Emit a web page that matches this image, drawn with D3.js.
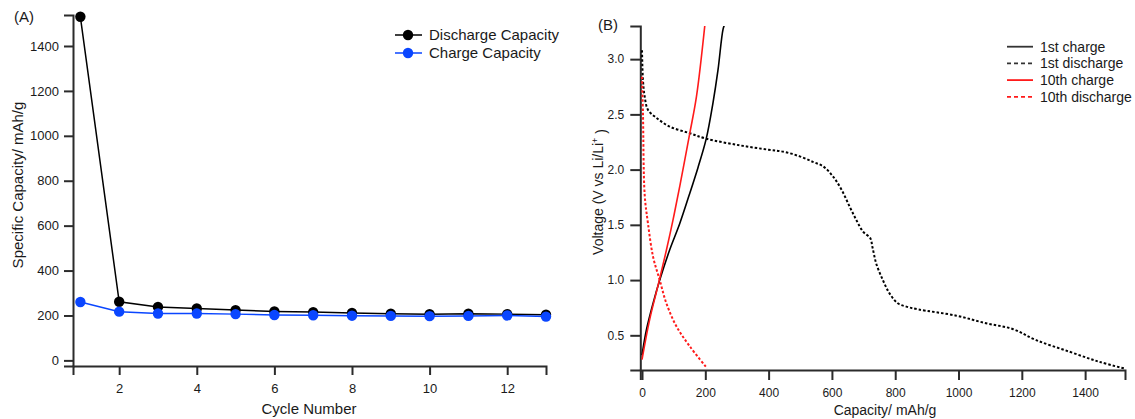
<!DOCTYPE html>
<html>
<head>
<meta charset="utf-8">
<script src="https://cdn.jsdelivr.net/npm/d3@7"></script>
<style>
  html, body { margin: 0; padding: 0; background: #fff; }
  svg { display: block; font-family: Arial, "Liberation Sans", sans-serif; }
</style>
</head>
<body>
<svg id="chart" width="1135" height="419"></svg>
<script>
// ---------- Panel A data ----------
const cycles = [1, 2, 3, 4, 5, 6, 7, 8, 9, 10, 11, 12, 13];
const dischargeCapacity = [1530, 261, 238, 231, 224, 218, 215, 211, 208, 206, 208, 206, 203];
const chargeCapacity = [260, 217, 209, 209, 206, 202, 201, 199, 198, 197, 198, 200, 195];
const cycleTicks = [2, 4, 6, 8, 10, 12];
const capTicksA = [0, 200, 400, 600, 800, 1000, 1200, 1400];
const legendA = ["Discharge Capacity", "Charge Capacity"];

// ---------- Panel B data (capacity mAh/g, voltage V) ----------
const firstChargeCap = [0, 14, 35, 56, 87, 119, 148, 177, 203, 224, 240, 256, 262];
const firstChargeV = [0.32, 0.55, 0.79, 1.0, 1.27, 1.51, 1.76, 2.02, 2.28, 2.6, 2.9, 3.27, 3.32];
const firstDischargeCap = [0, 3, 8.5, 19, 45, 87, 150, 203, 308, 400, 450, 498, 540, 572, 603, 630, 656, 677, 698, 721, 728, 740, 761, 782, 808, 835, 872, 993, 1087, 1171, 1245, 1351, 1445, 1524];
const firstDischargeV = [3.08, 2.81, 2.66, 2.54, 2.47, 2.39, 2.33, 2.28, 2.22, 2.18, 2.16, 2.12, 2.07, 2.03, 1.94, 1.82, 1.665, 1.545, 1.44, 1.38, 1.30, 1.15, 1.0, 0.88, 0.79, 0.76, 0.735, 0.678, 0.609, 0.557, 0.457, 0.351, 0.26, 0.20];
const tenthChargeCap = [0, 24, 51, 77, 98, 120, 151, 172, 199];
const tenthChargeV = [0.28, 0.64, 0.955, 1.27, 1.545, 1.86, 2.33, 2.66, 3.32];
const tenthDischargeCap = [0, 3, 8.5, 19, 35, 56, 77, 109, 151, 206];
const tenthDischargeV = [2.84, 2.51, 1.77, 1.51, 1.21, 1.0, 0.79, 0.58, 0.40, 0.20];
const capTicksB = [0, 200, 400, 600, 800, 1000, 1200, 1400];
const voltTicks = [0.5, 1.0, 1.5, 2.0, 2.5, 3.0];
const legendB = ["1st charge", "1st discharge", "10th charge", "10th discharge"];

const svg = d3.select("#chart");
const axisColor = "#2b2b2b";
const textColor = "#1a1a1a";
const blue = "#0a46ff";
const red = "#ff1a1a";

function styleAxis(g, fontSize) {
  g.select(".domain").attr("stroke", axisColor).attr("stroke-width", 2);
  g.selectAll(".tick line").attr("stroke", axisColor).attr("stroke-width", 2);
  g.selectAll(".tick text").attr("fill", textColor).style("font-size", fontSize + "px")
    .style("font-family", "Arial, 'Liberation Sans', sans-serif");
}

// ================= Panel A =================
const xA = d3.scaleLinear().domain([0.81, 13]).range([73, 546]);
const yA = d3.scaleLinear().domain([-25, 1538]).range([366, 15]);

const gAx = svg.append("g").attr("transform", "translate(0,366)")
  .call(d3.axisBottom(xA).tickValues(cycleTicks).tickFormat(d3.format("d")).tickSizeOuter(0).tickSize(9).tickPadding(9));
styleAxis(gAx, 13);
const gAy = svg.append("g").attr("transform", "translate(73,0)")
  .call(d3.axisLeft(yA).tickValues(capTicksA).tickFormat(d3.format("d")).tickSizeOuter(0).tickSize(9).tickPadding(5));
styleAxis(gAy, 13);

const lineA = d3.line().x(d => xA(d[0])).y(d => yA(d[1]));
const seriesA = [
  { name: legendA[0], vals: dischargeCapacity, color: "#000" },
  { name: legendA[1], vals: chargeCapacity, color: blue }
];
seriesA.forEach(s => {
  const pts = cycles.map((c, i) => [c, s.vals[i]]);
  svg.append("path").datum(pts).attr("d", lineA)
    .attr("fill", "none").attr("stroke", s.color).attr("stroke-width", 1.5);
  svg.append("g").selectAll("circle").data(pts).join("circle")
    .attr("cx", d => xA(d[0])).attr("cy", d => yA(d[1])).attr("r", 5.2)
    .attr("fill", s.color);
});

// legend A
seriesA.forEach((s, i) => {
  const y = 35 + i * 18;
  svg.append("line").attr("x1", 395).attr("x2", 422).attr("y1", y).attr("y2", y)
    .attr("stroke", s.color).attr("stroke-width", 1.5);
  svg.append("circle").attr("cx", 408).attr("cy", y).attr("r", 5.2).attr("fill", s.color);
  svg.append("text").attr("x", 429).attr("y", y).attr("dy", "0.35em")
    .attr("fill", textColor).style("font-size", "15px").text(s.name);
});

svg.append("text").attr("x", 309).attr("y", 409).attr("dy", "0.35em").attr("text-anchor", "middle")
  .attr("fill", textColor).style("font-size", "15px").text("Cycle Number");
svg.append("text").attr("transform", "translate(18,185) rotate(-90)").attr("dy", "0.35em")
  .attr("text-anchor", "middle").attr("fill", textColor).style("font-size", "15px")
  .text("Specific Capacity/ mAh/g");
svg.append("text").attr("x", 14).attr("y", 17).attr("dy", "0.35em")
  .attr("fill", textColor).style("font-size", "15px").text("(A)");

// ================= Panel B =================
const xB = d3.scaleLinear().domain([-5.4, 1526]).range([640.3, 1125]);
const yB = d3.scaleLinear().domain([0.186, 3.30]).range([370, 26]);

const gBx = svg.append("g").attr("transform", "translate(0,370)")
  .call(d3.axisBottom(xB).tickValues(capTicksB).tickFormat(d3.format("d")).tickSizeOuter(0).tickSize(10).tickPadding(8));
styleAxis(gBx, 12);
const gBy = svg.append("g").attr("transform", "translate(640.3,0)")
  .call(d3.axisLeft(yB).tickValues(voltTicks).tickFormat(d3.format(".1f")).tickSizeOuter(0).tickSize(10).tickPadding(6));
styleAxis(gBy, 12);

svg.append("clipPath").attr("id", "clipB").append("rect")
  .attr("x", 641).attr("y", 26).attr("width", 490).attr("height", 346);

const lineB = d3.line().x(d => xB(d[0])).y(d => yB(d[1])).curve(d3.curveCatmullRom.alpha(0.5));
const curveDot = "2.5,2";
const seriesB = [
  { name: legendB[1], cap: firstDischargeCap, v: firstDischargeV, color: "#000", dash: curveDot, lg: "4,3" },
  { name: legendB[3], cap: tenthDischargeCap, v: tenthDischargeV, color: red, dash: curveDot, lg: "4,3" },
  { name: legendB[0], cap: firstChargeCap, v: firstChargeV, color: "#000", dash: null, lg: null },
  { name: legendB[2], cap: tenthChargeCap, v: tenthChargeV, color: red, dash: null, lg: null }
];
const curvesG = svg.append("g").attr("clip-path", "url(#clipB)");
seriesB.forEach(s => {
  const pts = s.cap.map((c, i) => [c, s.v[i]]);
  curvesG.append("path").datum(pts).attr("d", lineB)
    .attr("fill", "none").attr("stroke", s.color).attr("stroke-width", s.dash ? 2 : 1.6)
    .attr("stroke-dasharray", s.dash);
});

// legend B
legendB.forEach((name, i) => {
  const s = seriesB.find(d => d.name === name);
  const y = 46.7 + i * 16.7;
  svg.append("line").attr("x1", 1007).attr("x2", 1033).attr("y1", y).attr("y2", y)
    .attr("stroke", s.color === "#000" ? "#333" : s.color).attr("stroke-width", 1.8)
    .attr("stroke-dasharray", s.lg);
  svg.append("text").attr("x", 1040).attr("y", y).attr("dy", "0.35em")
    .attr("fill", textColor).style("font-size", "14px").text(name);
});

svg.append("text").attr("x", 885).attr("y", 410).attr("dy", "0.35em").attr("text-anchor", "middle")
  .attr("fill", textColor).style("font-size", "14px").text("Capacity/ mAh/g");
const vt = svg.append("text").attr("transform", "translate(598,192) rotate(-90)").attr("dy", "0.35em")
  .attr("text-anchor", "middle").attr("fill", textColor).style("font-size", "14px");
vt.append("tspan").text("Voltage (V vs Li/Li");
vt.append("tspan").attr("dy", "-0.6em").style("font-size", "9px").text("+");
vt.append("tspan").attr("dy", "0.6em").text(" )");
svg.append("text").attr("x", 598).attr("y", 25).attr("dy", "0.35em")
  .attr("fill", textColor).style("font-size", "15px").text("(B)");
</script>
</body>
</html>
